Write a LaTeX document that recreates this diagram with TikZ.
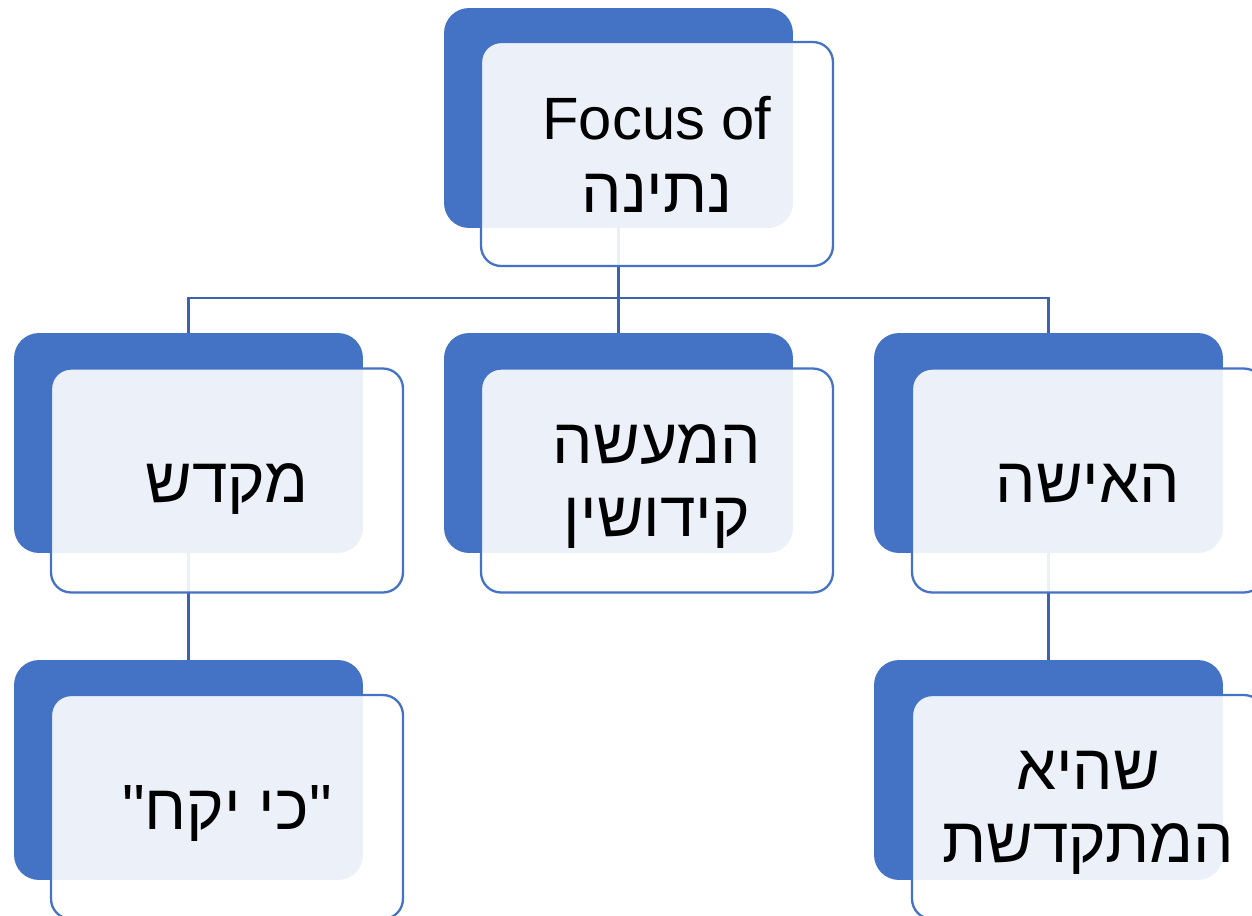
\documentclass[tikz,border=0pt]{standalone}
\usepackage{fontspec}
\setmainfont{Liberation Sans}
\newfontfamily\hebfont[Script=Hebrew,Scale=1.07]{Liberation Sans}
\TeXXeTstate=1
\definecolor{boxblue}{RGB}{68,114,196}
\definecolor{linkblue}{RGB}{61,98,173}

\begin{document}
\begin{tikzpicture}[x=0.02cm,y=-0.02cm]
\tikzstyle{back}=[fill=boxblue, rounded corners=0.5cm, minimum width=6.98cm, minimum height=4.4cm, inner sep=0]
\tikzstyle{front}=[draw=boxblue, line width=1.3pt, fill=white, fill opacity=0.9, text opacity=1, rounded corners=0.4cm, minimum width=7.04cm, minimum height=4.48cm, inner sep=0, align=center, font=\fontsize{34}{41.5}\selectfont]
\tikzstyle{oneline}=[front, text height=25.5pt, text depth=0pt]
\tikzstyle{twoline}=[front, text depth=0pt]
\tikzstyle{link}=[draw=linkblue, line width=1.5pt]
\clip (0,0) rectangle (1252,916);

% blue boxes behind
\node[back] (NB) at ( 618.5,118) {};
\node[back] (MB) at ( 188.5,443) {};
\node[back] (AB) at ( 618.5,443) {};
\node[back] (IB) at (1048.5,443) {};
\node[back] (KB) at ( 188.5,770) {};
\node[back] (SB) at (1048.5,770) {};

% tree lines
\coordinate (bus) at (618.5,298);
\draw[link] (NB.south) -- (bus);
\draw[link] (MB.north) |- (bus) -| (IB.north);
\draw[link] (bus) -- (AB.north);
\draw[link] (MB.south) -- (KB.north);
\draw[link] (IB.south) -- (SB.north);

% text boxes in front
\node[front]   (N) at ( 657,154) {Focus of\\{\hebfont\beginR נתינה\endR}};
\node[oneline] (M) at ( 227,480.5) {\hebfont\beginR מקדש\endR};
\node[twoline] (A) at ( 657,480.5) {{\hebfont\beginR המעשה\endR}\\{\hebfont\beginR קידושין\endR}};
\node[oneline] (I) at (1088,480.5) {\hebfont\beginR האישה\endR};
\node[oneline] (K) at ( 227,807) {\hebfont\beginR "כי יקח"\endR};
\node[twoline] (S) at (1088,807) {{\hebfont\beginR שהיא\endR}\\{\hebfont\beginR המתקדשת\endR}};
\end{tikzpicture}
\end{document}
